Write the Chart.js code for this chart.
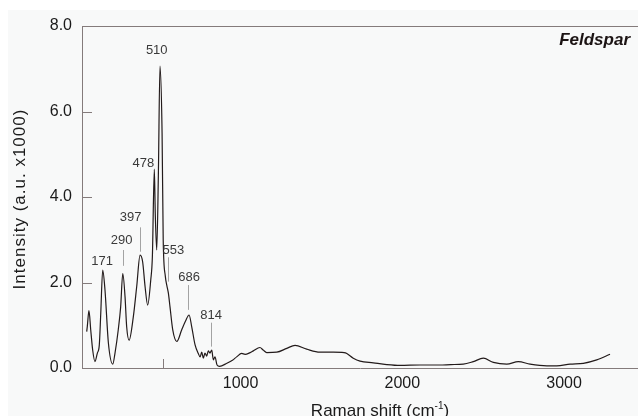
<!DOCTYPE html>
<html><head><meta charset="utf-8">
<script src="https://cdn.jsdelivr.net/npm/chart.js@4.4.1/dist/chart.umd.min.js"></script>
<style>html,body{margin:0;padding:0;background:#fff;}#wrap{width:638px;height:416px;position:relative;}canvas{display:block;}</style>
</head><body><div id="wrap"><canvas id="c" width="638" height="416"></canvas></div>
<script>
// Raman shift (cm-1) and intensity (a.u. x1000)
const ramanShift = [49,53,63,74,86,100,115,127,136,148,162,183,210,224,244,259,272,286,296,311,337,358,379,395,410,426,445,455,467,473,482,492,502,515,522,535,544,554,564,581,606,636,660,682,698,719,739,750,760,770,780,791,801,811,822,832,842,855,870,915,950,976,1007,1028,1059,1079,1120,1140,1162,1224,1286,1337,1409,1491,1574,1640,1657,1697,1739,1821,1904,1986,2110,2233,2300,2377,2439,2501,2563,2646,2717,2790,2893,2955,3037,3119,3202,3284];
const intensity = [0.85,0.98,1.34,0.89,0.42,0.15,0.35,0.54,1.28,2.29,1.83,0.59,0.09,0.35,0.89,1.43,2.21,1.67,0.97,0.65,1.19,1.90,2.64,2.48,1.90,1.47,2.06,2.6,4.65,3.6,2.76,4.5,7.06,5.5,3.0,2.15,1.94,1.75,1.43,0.89,0.62,0.89,1.10,1.24,0.97,0.54,0.34,0.26,0.37,0.23,0.35,0.28,0.40,0.35,0.42,0.19,0.26,0.07,0.04,0.11,0.18,0.26,0.34,0.32,0.36,0.40,0.48,0.42,0.36,0.37,0.46,0.53,0.44,0.37,0.37,0.36,0.34,0.23,0.16,0.12,0.08,0.06,0.07,0.07,0.08,0.09,0.15,0.23,0.13,0.09,0.15,0.09,0.05,0.05,0.09,0.11,0.19,0.32];

const xTickValues = [1000, 2000, 3000];
const yTickValues = [0, 2, 4, 6, 8];
const xMinorTicks = [520];

// peak annotations (text, anchor in data units, leader line in data units)
const peakLabels = ['171','290','397','478','510','553','686','814'];
const peakLabelX = [144, 265, 321, 399, 482, 585, 682, 818];
const peakLabelY = [2.49, 2.99, 3.53, 4.79, 7.44, 2.74, 2.11, 1.24];
const peakLineX  = [null, 274, 379, null, null, 550, 677, 816];
const peakLineY1 = [null, 2.76, 3.29, null, null, 2.59, 1.94, 1.06];
const peakLineY2 = [null, 2.39, 2.72, null, null, 2.02, 1.36, 0.50];

const sampleName = 'Feldspar';
const xTitle = 'Raman shift (cm';
const xTitleSup = '-1';
const yTitle = 'Intensity (a.u. x1000)';

const AXIS = '#847b7b';
const FONT = '"Liberation Sans", Arial, sans-serif';

const points = ramanShift.map((x, i) => ({x, y: intensity[i]}));

const deco = {
  id: 'deco',
  beforeDraw(chart) {
    const ctx = chart.ctx;
    ctx.save();
    ctx.fillStyle = '#ffffff';
    ctx.fillRect(0, 0, chart.width, chart.height);
    ctx.fillStyle = '#f8f9f9';
    ctx.fillRect(8, 10, chart.width - 8, chart.height - 10);
    ctx.restore();
  },
  afterDraw(chart) {
    const ctx = chart.ctx;
    const a = chart.chartArea;
    const xs = chart.scales.x, ys = chart.scales.y;
    ctx.save();
    // top frame line
    ctx.strokeStyle = AXIS; ctx.lineWidth = 1;
    ctx.beginPath(); ctx.moveTo(a.left, a.top + 0.5); ctx.lineTo(a.right, a.top + 0.5); ctx.stroke();
    // inner y tick marks
    yTickValues.forEach(v => {
      const py = Math.round(ys.getPixelForValue(v)) + 0.5;
      ctx.beginPath(); ctx.moveTo(a.left, py); ctx.lineTo(a.left + 10, py); ctx.stroke();
    });
    // minor x tick
    xMinorTicks.forEach(v => {
      const px = Math.round(xs.getPixelForValue(v)) + 0.5;
      ctx.beginPath(); ctx.moveTo(px, a.bottom); ctx.lineTo(px, a.bottom - 9); ctx.stroke();
    });
    // peak leader lines
    ctx.strokeStyle = '#a3a3a3';
    peakLineX.forEach((v, i) => {
      if (v === null) return;
      const px = Math.round(xs.getPixelForValue(v)) + 0.5;
      ctx.beginPath();
      ctx.moveTo(px, ys.getPixelForValue(peakLineY1[i]));
      ctx.lineTo(px, ys.getPixelForValue(peakLineY2[i]));
      ctx.stroke();
    });
    // peak labels
    ctx.fillStyle = '#3a3a3a';
    ctx.font = '13px "Liberation Sans Narrow", "Liberation Sans", Arial, sans-serif';
    ctx.textAlign = 'center'; ctx.textBaseline = 'middle';
    peakLabels.forEach((t, i) => {
      ctx.fillText(t, xs.getPixelForValue(peakLabelX[i]), ys.getPixelForValue(peakLabelY[i]));
    });
    // sample name
    ctx.fillStyle = '#1c1414';
    ctx.font = 'italic bold 17px ' + FONT;
    ctx.textAlign = 'right';
    ctx.fillText(sampleName, 630, 40);
    // x title with superscript
    ctx.fillStyle = '#1a1a1a';
    ctx.textBaseline = 'alphabetic';
    ctx.textAlign = 'left';
    ctx.font = '17px ' + FONT;
    const w1 = ctx.measureText(xTitle).width;
    ctx.font = '10px ' + FONT;
    const w2 = ctx.measureText(xTitleSup).width;
    ctx.font = '17px ' + FONT;
    const w3 = ctx.measureText(')').width;
    const total = w1 + w2 + w3;
    let sx = 380 - total / 2;
    const base = 416;
    ctx.fillText(xTitle, sx, base);
    ctx.font = '10px ' + FONT;
    ctx.fillText(xTitleSup, sx + w1, base - 7);
    ctx.font = '17px ' + FONT;
    ctx.fillText(')', sx + w1 + w2, base);
    // y title
    ctx.translate(20, 199);
    ctx.rotate(-Math.PI / 2);
    ctx.textAlign = 'center'; ctx.textBaseline = 'middle';
    ctx.font = '17px ' + FONT;
    try { ctx.letterSpacing = '1px'; } catch (e) {}
    ctx.fillText(yTitle, 0, 0);
    ctx.restore();
  }
};

new Chart(document.getElementById('c'), {
  type: 'line',
  data: {
    datasets: [{
      data: points,
      borderColor: '#231b1b',
      borderWidth: 1.2,
      pointRadius: 0,
      fill: false,
      cubicInterpolationMode: 'monotone'
    }]
  },
  options: {
    responsive: false,
    devicePixelRatio: 1,
    animation: false,
    events: [],
    layout: { padding: { top: 26, right: 0, left: 0, bottom: 0 } },
    plugins: { legend: { display: false }, tooltip: { enabled: false } },
    scales: {
      x: {
        type: 'linear', min: 20, max: 3457,
        afterFit: s => { s.height = 48; },
        afterBuildTicks: s => { s.ticks = xTickValues.map(v => ({value: v})); },
        grid: { display: false, drawTicks: false },
        border: { display: true, color: AXIS, width: 1 },
        ticks: { padding: 6, color: '#1a1a1a', font: { family: FONT, size: 16 }, maxRotation: 0, autoSkip: false,
                 callback: v => String(v) }
      },
      y: {
        type: 'linear', min: 0, max: 8,
        afterFit: s => { s.width = 82; },
        afterBuildTicks: s => { s.ticks = yTickValues.map(v => ({value: v})); },
        grid: { display: false, drawTicks: false },
        border: { display: true, color: AXIS, width: 1 },
        ticks: { padding: 10, color: '#1a1a1a', font: { family: FONT, size: 16 },
                 callback: v => Number(v).toFixed(1) }
      }
    }
  },
  plugins: [deco]
});
</script>
</body></html>
